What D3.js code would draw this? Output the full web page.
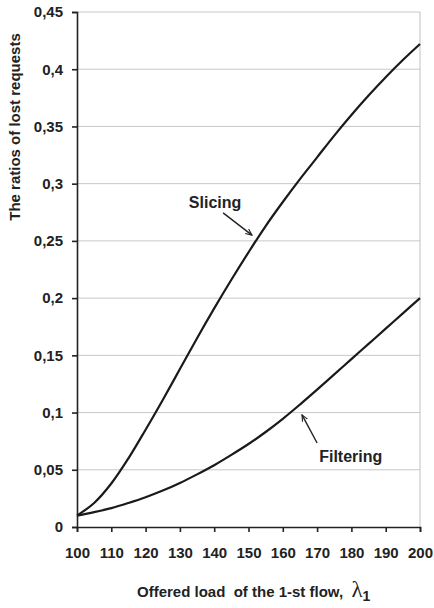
<!DOCTYPE html>
<html>
<head>
<meta charset="utf-8">
<script src="https://cdn.jsdelivr.net/npm/d3@7"></script>
<style>
  html, body { margin: 0; padding: 0; background: #fff; }
  svg { display: block; }
  text { font-family: "Liberation Sans", Arial, sans-serif; font-weight: bold; fill: #222; }
</style>
</head>
<body>
<svg id="chart" width="434" height="608"></svg>
<script>
// ---- data ----
const loads = [100,105,110,115,120,125,130,135,140,145,150,155,160,165,170,175,180,185,190,195,200];
const slicing = [0.010,0.021,0.038,0.060,0.085,0.111,0.138,0.165,0.191,0.216,0.240,0.263,0.284,0.304,0.323,0.342,0.360,0.377,0.393,0.408,0.422];
const filtering = [0.010,0.013,0.0165,0.021,0.026,0.0318,0.0385,0.046,0.054,0.063,0.0725,0.083,0.0945,0.107,0.120,0.1333,0.1467,0.160,0.1733,0.1867,0.200];
const xTicks = [100,110,120,130,140,150,160,170,180,190,200];
const yTicks = [0,0.05,0.1,0.15,0.2,0.25,0.3,0.35,0.4,0.45];
const yTickLabels = ["0","0,05","0,1","0,15","0,2","0,25","0,3","0,35","0,4","0,45"];
const seriesNames = ["Slicing","Filtering"];
// annotation anchors in data units: label position, arrow tail, arrow head
const annotations = [
  {name: "Slicing",   lx: 132.6, ly: 0.279, x1: 142.6, y1: 0.2745, x2: 151.0, y2: 0.255},
  {name: "Filtering", lx: 170.6, ly: 0.0568, x1: 170.0, y1: 0.0734, x2: 165.6, y2: 0.098}
];

// ---- layout ----
const svg = d3.select("#chart");
const mL = 77, mR = 420, mT = 12, mB = 527;
const x = d3.scaleLinear().domain([100,200]).range([mL,mR]);
const y = d3.scaleLinear().domain([0,0.45]).range([mB,mT]);

// grid
svg.append("g").selectAll("line").data(yTicks.filter(d => d > 0)).join("line")
  .attr("x1", mL).attr("x2", mR)
  .attr("y1", d => y(d)).attr("y2", d => y(d))
  .attr("stroke", "#c8c8c8").attr("stroke-width", 1);
// right border
svg.append("line").attr("x1", mR).attr("x2", mR).attr("y1", mT).attr("y2", mB)
  .attr("stroke", "#c0c0c0").attr("stroke-width", 1);

// axes
const xAxis = d3.axisBottom(x).tickValues(xTicks).tickFormat(d3.format("d")).tickSize(5).tickPadding(15);
const gx = svg.append("g").attr("transform", `translate(0,${mB})`).call(xAxis);
gx.attr("font-family", null).attr("font-size", null);
gx.select(".domain").attr("stroke", "#222").attr("stroke-width", 1.6);
gx.selectAll(".tick line").attr("stroke", "#222").attr("stroke-width", 1.6);
gx.selectAll(".tick text").attr("font-size", 15).style("fill", "#222");

const yAxis = d3.axisLeft(y).tickValues(yTicks).tickFormat((d,i) => yTickLabels[i]).tickSize(5).tickPadding(9);
const gy = svg.append("g").attr("transform", `translate(${mL},0)`).call(yAxis);
gy.attr("font-family", null).attr("font-size", null);
gy.select(".domain").attr("stroke", "#222").attr("stroke-width", 1.6);
gy.selectAll(".tick line").attr("stroke", "#222").attr("stroke-width", 1.6);
gy.selectAll(".tick text").attr("font-size", 15).style("fill", "#222");

// curves
const line = d3.line().x((d,i) => x(loads[i])).y(d => y(d)).curve(d3.curveCatmullRom.alpha(0.5));
[slicing, filtering].forEach(s => {
  svg.append("path").datum(s).attr("d", line)
    .attr("fill", "none").attr("stroke", "#1a1a1a").attr("stroke-width", 2.2);
});

// arrow marker
svg.append("defs").append("marker")
  .attr("id", "arr").attr("viewBox", "0 0 10 10").attr("refX", 9).attr("refY", 5)
  .attr("markerWidth", 7).attr("markerHeight", 7).attr("markerUnits", "userSpaceOnUse")
  .attr("orient", "auto")
  .append("path").attr("d", "M0,1 L9,5 L0,9").attr("fill", "none").attr("stroke", "#222").attr("stroke-width", 1.6);

annotations.forEach(a => {
  svg.append("text").attr("x", x(a.lx)).attr("y", y(a.ly)).attr("font-size", 16).text(a.name);
  svg.append("line").attr("x1", x(a.x1)).attr("y1", y(a.y1)).attr("x2", x(a.x2)).attr("y2", y(a.y2))
    .attr("stroke", "#222").attr("stroke-width", 1.4).attr("marker-end", "url(#arr)");
});

// axis titles
svg.append("text").attr("transform", "translate(20,127) rotate(-90)")
  .attr("text-anchor", "middle").attr("font-size", 15).text("The ratios of lost requests");

const xt = svg.append("text").attr("x", 137).attr("y", 597).attr("font-size", 15).style("white-space", "pre");
xt.append("tspan").text("Offered load  of the 1-st flow,  ");
xt.append("tspan").attr("font-family", "'Liberation Serif', 'Times New Roman', serif").attr("font-weight", "normal")
  .attr("font-size", 23).text("λ");
xt.append("tspan").attr("font-size", 14).attr("dy", 4).text("1");
</script>
</body>
</html>
